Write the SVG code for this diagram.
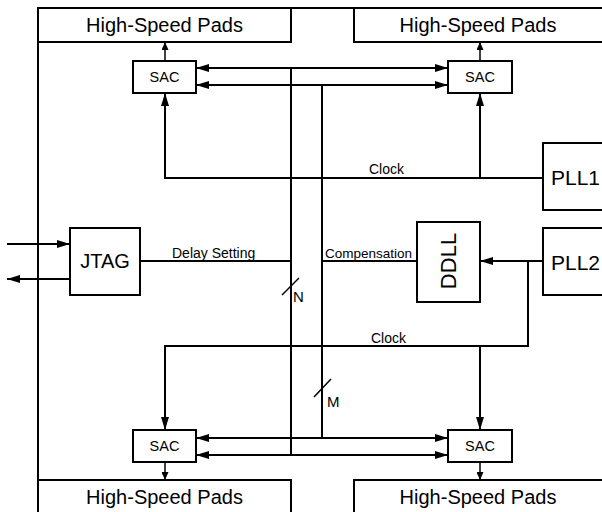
<svg xmlns="http://www.w3.org/2000/svg" width="602" height="512" viewBox="0 0 602 512">
<defs>
<style>
.box{fill:#fff;stroke:#000;stroke-width:2}
.ln{fill:none;stroke:#000;stroke-width:2}
.lt{fill:none;stroke:#000;stroke-width:1.5}
text{font-family:"Liberation Sans",Arial,sans-serif;fill:#000}
.pad{font-size:20px;text-anchor:middle}
.sac{font-size:14.5px;text-anchor:middle}
.lbl{font-size:14px}
</style>
<marker id="ah" markerUnits="userSpaceOnUse" markerWidth="13" markerHeight="8" refX="13" refY="4" orient="auto-start-reverse"><path d="M0,0 L13,4 L0,8 z" fill="#000"/></marker>
<marker id="as" markerUnits="userSpaceOnUse" markerWidth="8" markerHeight="7" refX="8" refY="3.5" orient="auto"><path d="M0,0 L8,3.5 L0,7 z" fill="#000"/></marker>
</defs>
<g id="chip"><path class="ln" d="M38,512 L38,8 L602,8"/></g>
<g id="pads-tl"><rect class="box" x="38" y="8" width="253" height="34"/><text class="pad" x="164.5" y="32">High-Speed Pads</text></g>
<g id="pads-tr"><rect class="box" x="354" y="8" width="260" height="34"/><text class="pad" x="478" y="32">High-Speed Pads</text></g>
<g id="pads-bl"><rect class="box" x="38" y="480" width="253" height="40"/><text class="pad" x="164.5" y="504">High-Speed Pads</text></g>
<g id="pads-br"><rect class="box" x="354" y="480" width="260" height="40"/><text class="pad" x="478" y="504">High-Speed Pads</text></g>
<g id="connectors">
<line class="lt" x1="165" y1="61" x2="165" y2="42" marker-end="url(#as)"/>
<line class="lt" x1="480" y1="61" x2="480" y2="42" marker-end="url(#as)"/>
<line class="lt" x1="165" y1="462" x2="165" y2="480" marker-end="url(#as)"/>
<line class="lt" x1="480" y1="462" x2="480" y2="480" marker-end="url(#as)"/>
<line class="ln" x1="196" y1="68" x2="448" y2="68" marker-start="url(#ah)" marker-end="url(#ah)"/>
<line class="ln" x1="196" y1="85" x2="448" y2="85" marker-start="url(#ah)" marker-end="url(#ah)"/>
<line class="ln" x1="196" y1="438" x2="448" y2="438" marker-start="url(#ah)" marker-end="url(#ah)"/>
<line class="ln" x1="196" y1="455" x2="448" y2="455" marker-start="url(#ah)" marker-end="url(#ah)"/>
<line class="ln" x1="291" y1="68" x2="291" y2="455"/>
<line class="ln" x1="322" y1="85" x2="322" y2="438"/>
<line class="lt" x1="282" y1="295" x2="299" y2="278"/>
<line class="lt" x1="314" y1="397" x2="331" y2="379"/>
<path class="ln" d="M543,178 L165,178 L165,93" marker-end="url(#ah)"/>
<line class="ln" x1="480" y1="178" x2="480" y2="93" marker-end="url(#ah)"/>
<line class="ln" x1="543" y1="261" x2="480" y2="261" marker-end="url(#ah)"/>
<path class="ln" d="M528,261 L528,346 L165,346 L165,430" marker-end="url(#ah)"/>
<line class="ln" x1="480" y1="346" x2="480" y2="430" marker-end="url(#ah)"/>
<line class="ln" x1="140" y1="261" x2="291" y2="261"/>
<line class="ln" x1="322" y1="261" x2="417" y2="261"/>
<line class="ln" x1="7" y1="244" x2="70" y2="244" marker-end="url(#ah)"/>
<line class="ln" x1="70" y1="279" x2="7" y2="279" marker-end="url(#ah)"/>
<text class="lbl" x="369" y="174">Clock</text>
<text class="lbl" x="371" y="343">Clock</text>
<text class="lbl" x="172" y="258">Delay Setting</text>
<text class="lbl" x="325" y="258" style="font-size:13.5px">Compensation</text>
<text class="lbl" x="293" y="302" style="font-size:15px">N</text>
<text class="lbl" x="327" y="407" style="font-size:15px">M</text>
</g>
<g id="sac-tl"><rect class="box" x="133" y="61" width="63" height="32"/><text class="sac" x="164.5" y="82">SAC</text></g>
<g id="sac-tr"><rect class="box" x="448" y="61" width="64" height="32"/><text class="sac" x="480" y="82">SAC</text></g>
<g id="sac-bl"><rect class="box" x="133" y="430" width="63" height="32"/><text class="sac" x="164.5" y="451">SAC</text></g>
<g id="sac-br"><rect class="box" x="448" y="430" width="64" height="32"/><text class="sac" x="480" y="451">SAC</text></g>
<g id="pll1"><rect class="box" x="543" y="143" width="70" height="67"/><text x="551" y="185" style="font-size:21px">PLL1</text></g>
<g id="pll2"><rect class="box" x="543" y="228" width="70" height="67"/><text x="551" y="270" style="font-size:21px">PLL2</text></g>
<g id="ddll"><rect class="box" x="417" y="222" width="63" height="80"/><text x="0" y="0" transform="translate(456,261) rotate(-90)" style="font-size:22px;text-anchor:middle">DDLL</text></g>
<g id="jtag"><rect class="box" x="70" y="228" width="70" height="67"/><text x="105" y="268" style="font-size:20px;text-anchor:middle">JTAG</text></g>
</svg>
